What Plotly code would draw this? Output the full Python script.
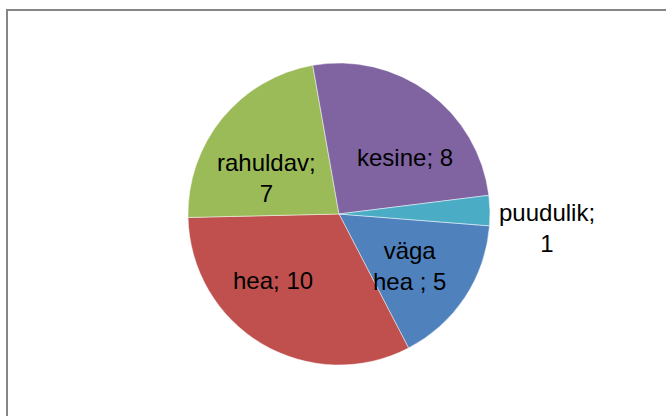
import math
import plotly.graph_objects as go

categories = ["väga hea ", "hea", "rahuldav", "kesine", "puudulik"]
values = [5, 10, 7, 8, 1]
label_texts = ["väga<br>hea ; 5", "hea; 10", "rahuldav;<br>7", "kesine; 8", "puudulik;<br>1"]
colors = ["#4F81BD", "#C0504D", "#9BBB59", "#8064A2", "#4BACC6"]

W, H = 666, 416
cx, cy, R = 339, 214, 151
ROTATION = 94.5
FONT = dict(family="Liberation Sans, Arial, sans-serif", size=24, color="#000000")

# label placement style (Excel "best fit"): radial fraction, anchor, pixel nudges
label_radius = [0.6, 0.6, 0.6, 0.6, 1.0]
label_anchor = ["center", "center", "center", "center", "left"]
label_nudge = [(-5, 2), (-20, -11), (-2, 21), (12, 16), (7, 17)]

fig = go.Figure(go.Pie(
    labels=categories,
    values=values,
    textinfo="none",
    sort=False,
    direction="clockwise",
    rotation=ROTATION,
    marker=dict(colors=colors, line=dict(color="rgba(255,255,255,0.6)", width=0.8)),
    showlegend=False,
    hoverinfo="label+value",
    domain=dict(x=[(cx - R) / W, (cx + R) / W], y=[1 - (cy + R) / H, 1 - (cy - R) / H]),
))

total = sum(values)
cum = 0
for v, txt, rf, anc, (dx, dy) in zip(values, label_texts, label_radius, label_anchor, label_nudge):
    theta = math.radians(ROTATION + 360.0 * (cum + v / 2) / total)
    cum += v
    px = cx + rf * R * math.sin(theta)
    py = cy - rf * R * math.cos(theta)
    fig.add_annotation(x=px / W, y=1 - py / H, xref="paper", yref="paper",
                       text=txt, showarrow=False, xanchor=anc, yanchor="middle",
                       xshift=dx, yshift=-dy, align="center", font=FONT)

fig.add_shape(type="rect", xref="paper", yref="paper",
              x0=7 / W, x1=1.05, y0=-0.05, y1=1 - 10 / H,
              line=dict(color="#868686", width=2), fillcolor="rgba(0,0,0,0)")

fig.update_layout(
    width=W, height=H,
    margin=dict(l=0, r=0, t=0, b=0),
    paper_bgcolor="#FFFFFF",
    plot_bgcolor="#FFFFFF",
)

fig.write_html("out.html", config={"displayModeBar": False},
               post_script="document.body.style.margin='0px';document.body.style.overflow='hidden';")
